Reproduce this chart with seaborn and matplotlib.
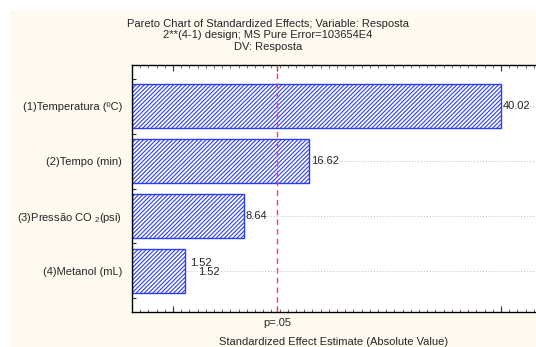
import matplotlib
matplotlib.use('Agg')
import matplotlib.pyplot as plt
from matplotlib.patches import Rectangle
from matplotlib.ticker import MultipleLocator, FixedLocator
import pandas as pd
import seaborn as sns

# dados do gráfico de Pareto
factors = ['(1)Temperatura (ºC)', '(2)Tempo (min)',
           '(3)Pressão CO $_\\mathrm{2}$(psi)', '(4)Metanol (mL)']
effects = [40.02, 16.62, 8.64, 1.52]
t_crit = 12.706  # p=.05
x_min, x_max = -5, 45

title_lines = ['Pareto Chart of Standardized Effects; Variable: Resposta',
               '2**(4-1) design; MS Pure Error=103654E4',
               'DV: Resposta']

sns.set_style('white')
plt.rcParams['font.family'] = ['Liberation Sans', 'DejaVu Sans']
plt.rcParams['mathtext.fontset'] = 'custom'
plt.rcParams['mathtext.rm'] = 'Liberation Sans'
plt.rcParams['hatch.color'] = '#1010ff'
plt.rcParams['hatch.linewidth'] = 0.8
fs = 8

fig = plt.figure(figsize=(5.36, 3.47), dpi=100, facecolor='white')
fig.patches.append(Rectangle((10 / 536, 0), 1, 1 - 10 / 347, transform=fig.transFigure,
                             facecolor='#fefaf0', edgecolor='none', zorder=-10))

ax = fig.add_axes([132 / 536, 35 / 347, 410 / 536, 247 / 347])
ax.set_facecolor('white')

df = pd.DataFrame({'factor': factors, 'effect': effects})
sns.barplot(data=df, x='effect', y='factor', orient='h', width=0.8, color='white',
            saturation=1, edgecolor='#2a3cff', linewidth=1.0, ax=ax, zorder=2)

# barras começam na borda esquerda do eixo (estilo Statistica)
for p, v in zip(ax.patches, effects):
    p.set_x(x_min)
    p.set_width(v - x_min)
    p.set_hatch('////////')

for i, v in enumerate(effects):
    if i == len(effects) - 1:
        ax.annotate(f'{v:.2f}', (v, i), xytext=(3, 5.5), textcoords='offset points',
                    ha='left', va='center', fontsize=fs, zorder=4)
        ax.annotate(f'{v:.2f}', (v, i), xytext=(9, -0.5), textcoords='offset points',
                    ha='left', va='center', fontsize=fs, zorder=4)
    else:
        ax.annotate(f'{v:.2f}', (v, i), xytext=(1.5, 0), textcoords='offset points',
                    ha='left', va='center', fontsize=fs, zorder=4)

ax.axvline(t_crit, color='#ff4050', linestyle=(0, (4, 3)), linewidth=1.0, zorder=3)

ax.set_xlim(x_min, x_max)
ax.set_ylim(len(factors) - 0.25, -0.75)
ax.set_xlabel('')
ax.set_ylabel('')

ax.set_xticks([0, t_crit, 40], ['', 'p=.05', ''])
ax.xaxis.set_minor_locator(MultipleLocator(1))
ax.tick_params(axis='x', which='major', direction='in', length=4, width=0.8,
               top=True, bottom=True, labelsize=fs, pad=4, color='#333333')
ax.tick_params(axis='x', which='minor', direction='in', length=2, width=0.6,
               top=True, bottom=True, color='#555555')

ax.yaxis.set_minor_locator(FixedLocator([i - 0.5 for i in range(len(factors) + 1)]))
ax.tick_params(axis='y', which='major', length=0, labelsize=fs, pad=7)
ax.tick_params(axis='y', which='minor', direction='in', length=3, width=0.8, left=True)

ax.grid(axis='y', which='major', color='#c8c8c8', linestyle=':', linewidth=0.8, zorder=0)
ax.set_axisbelow(True)

for s in ['left', 'bottom', 'top']:
    ax.spines[s].set_visible(True)
    ax.spines[s].set_color('black')
    ax.spines[s].set_linewidth(1.0)
ax.spines['right'].set_visible(False)

for k, line in enumerate(title_lines):
    fig.text(0.5, 1 - (24 + 11.5 * k) / 347, line, ha='center', va='center', fontsize=fs)
fig.text(334 / 536, 1 - 342 / 347, 'Standardized Effect Estimate (Absolute Value)',
         ha='center', va='center', fontsize=fs)

fig.savefig('out.png', dpi=100, facecolor=fig.get_facecolor())
